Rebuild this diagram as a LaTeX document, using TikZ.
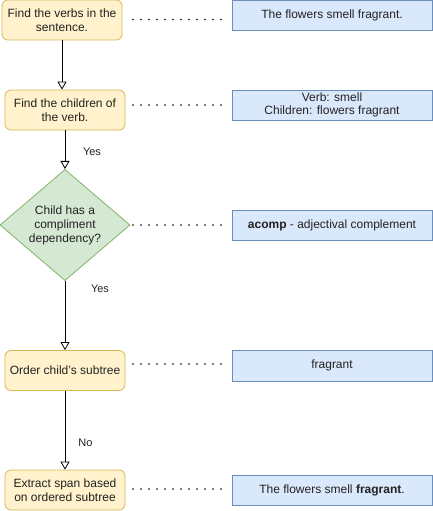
\documentclass[tikz,border=0pt]{standalone}
\usepackage{fontspec}
\setmainfont{Liberation Sans}
\usetikzlibrary{arrows.meta,shapes.geometric}
\definecolor{yfill}{HTML}{FFF2CC}
\definecolor{ydraw}{HTML}{D6B656}
\definecolor{gfill}{HTML}{D5E8D4}
\definecolor{gdraw}{HTML}{82B366}
\definecolor{bfill}{HTML}{DAE8FC}
\definecolor{bdraw}{HTML}{6C8EBF}
\definecolor{txt}{HTML}{222222}
\begin{document}
\begin{tikzpicture}[x=1pt,y=-1pt,
  every node/.style={font=\fontsize{12}{13.5}\selectfont, text=txt},
  stepbox/.style={draw=ydraw, fill=yfill, rounded corners=6pt, minimum width=120pt, minimum height=40pt, inner sep=0pt, align=center, line width=0.8pt},
  decbox/.style={diamond, draw=gdraw, fill=gfill, minimum width=130pt, minimum height=110pt, inner sep=0pt, align=center, line width=0.8pt, font=\fontsize{12}{14}\selectfont},
  infobox/.style={draw=bdraw, fill=bfill, minimum width=200pt, inner sep=0pt, align=center, line width=0.8pt},
  flow/.style={draw=black, line width=0.8pt, -{Triangle[open, length=8pt, width=9pt, fill=white]}},
  dotline/.style={draw=black, line width=1.6pt, dash pattern=on 0pt off 8pt, line cap=round},
  lbl/.style={font=\fontsize{11}{12}\selectfont, text=txt}
]
\useasboundingbox (0,0) rectangle (433,511);
\node[stepbox] (s1) at (62,20) {Find the verbs in the\\sentence.};
\node[stepbox] (s2) at (65,110) {Find the children of\\the verb.};
\node[decbox] (d) at (65,225) {Child has a\\compliment\\dependency?};
\node[stepbox] (s3) at (65,370.5) {Order child's subtree};
\node[stepbox] (s4) at (65,490) {Extract span based\\on ordered subtree};

\node[infobox, minimum height=30pt] (r1) at (332,15) {The flowers smell fragrant.};
\node[infobox, minimum height=30pt] (r2) at (332,105) {Verb: smell\\Children: flowers fragrant};
\node[infobox, minimum height=30pt] (r3) at (332,225) {\textbf{acomp} - adjectival complement};
\node[infobox, minimum height=31pt] (r4) at (332,365.5) {fragrant};
\node[infobox, minimum height=30pt] (r5) at (332,490) {The flowers smell \textbf{fragrant}.};

\coordinate (a1) at (133,19.5);
\coordinate (b1) at (222,19.5);
\coordinate (a2) at (133,105);
\coordinate (b2) at (222,105);
\coordinate (a3) at (133,225);
\coordinate (b3) at (222,225);
\coordinate (a4) at (133,364);
\coordinate (b4) at (222,364);
\coordinate (a5) at (133,489);
\coordinate (b5) at (222,489);
\draw[dotline] (a1) -- (b1);
\draw[dotline] (a2) -- (b2);
\draw[dotline] (a3) -- (b3);
\draw[dotline] (a4) -- (b4);
\draw[dotline] (a5) -- (b5);

\draw[flow] (s1.south) -- (s1.south |- s2.north);
\draw[flow] (s2.south) -- (d.north);
\draw[flow] (d.south) -- (s3.north);
\draw[flow] (s3.south) -- (s4.north);

\node[lbl] (y1) at (92,151.5) {Yes};
\node[lbl] (y2) at (100,289) {Yes};
\node[lbl] (n1) at (85.5,443) {No};
\end{tikzpicture}
\end{document}
